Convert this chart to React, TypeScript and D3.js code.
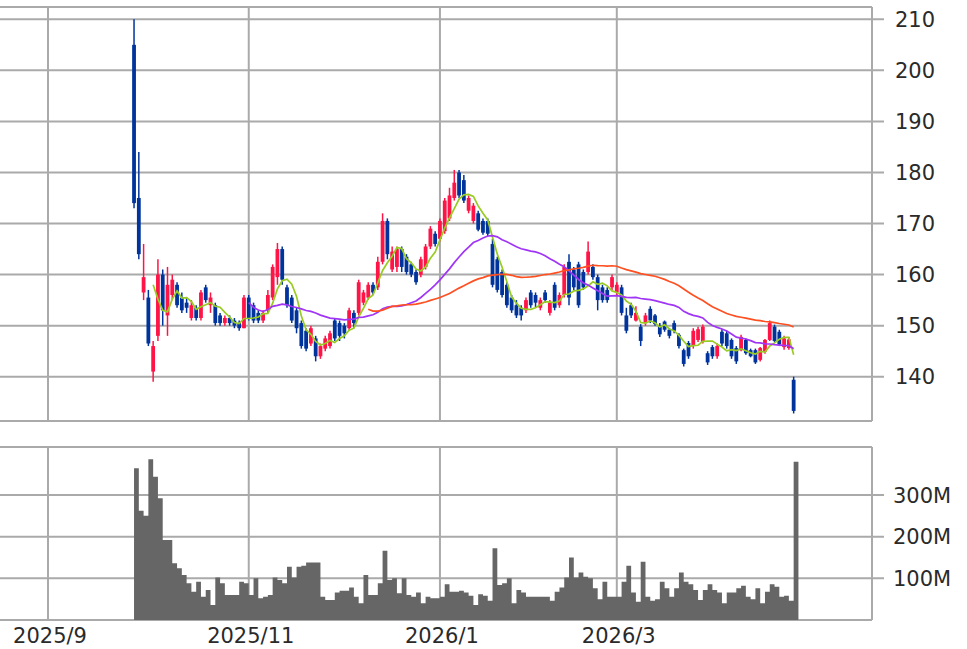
import React from "react";
import * as d3 from "d3";

// trading-day index of the first candle (0 = first trading day of 2025/9)
const START_INDEX = 18;

const opens = [
  205, 175, 156.5, 155.5, 141, 148, 160, 152, 156, 158, 155.5, 154.5, 151.5, 153.5, 151.5, 157.5, 154, 154, 152, 150.5,
  151.5, 151, 150.5, 149.5, 155.5, 154, 152.5, 151, 153, 155.5, 159.5, 165, 157.5, 155.5, 153, 150.5, 149, 146.5, 147.5, 144,
  145.5, 146, 151, 150.5, 150, 149.5, 152.5, 152.5, 154.5, 155.5, 158, 157.5, 162.5, 170.5, 161, 161.5, 165, 163.5, 162, 160.5,
  160, 161.5, 165.5, 168, 167, 168.5, 171, 175, 180, 178.5, 172.5, 170.5, 172, 170.5, 170.5, 166, 163, 160.5, 158, 155.5,
  154, 153.5, 153, 156.5, 156, 153.5, 156.5, 152.5, 158, 154, 156, 162.5, 161, 162, 160.5, 160.5, 161.5, 159.5, 157.5, 157,
  157.5, 156.5, 157.5, 152, 154, 151, 149.8, 150.5, 153.3, 152, 150, 150.8, 149.2, 150.5, 148.2, 145.2, 146.6, 146, 147.2, 146.8,
  144.6, 145.8, 144, 148.8, 148.5, 147.2, 145.6, 145.2, 147.2, 145.2, 145.2, 143.3, 144.9, 147.2, 149.8, 148.8, 145.8, 145.6, 139.4,
];
const highs = [
  210, 184, 166, 157, 147, 163, 161, 161.5, 160, 158.5, 156.5, 155.5, 155, 154, 157, 158, 156.5, 154.5, 152.5, 152,
  152, 151.5, 151, 156, 156, 154.5, 153, 153, 157, 162, 166.2, 165.5, 158, 156, 153.5, 151, 149.5, 150, 148, 146.5,
  148, 149, 151.5, 151, 150.5, 153.5, 153, 159, 157, 158.5, 158.5, 163.5, 172, 171, 165.5, 165.5, 165.5, 164, 162.5, 161,
  163.5, 166, 169.5, 168.5, 171, 175, 177, 180.5, 180.5, 179.5, 175.5, 174, 172.5, 171, 171, 167, 163.5, 161, 158.5, 156,
  155, 154, 155.5, 157, 156.5, 155.5, 157, 155, 158.5, 156.5, 162, 164, 161.5, 162.5, 161, 166.5, 162, 160, 158, 157.5,
  160, 158.5, 158, 153.5, 154.5, 153.8, 150.3, 152.5, 153.8, 152.3, 150.5, 151, 149.5, 151, 148.5, 145.5, 147, 149.5, 149.8, 150.2,
  145, 146.2, 146.5, 149.3, 149, 147.5, 146, 148.2, 147.5, 145.5, 145.5, 145.8, 147.4, 151, 150.2, 149.2, 148, 147.8, 140,
];
const lows = [
  173, 163, 155, 146, 139, 147, 150, 148, 155, 153.5, 152.5, 152.5, 151, 151, 151, 154.5, 152.5, 150, 150, 150,
  150, 149.5, 149, 149.5, 151, 150.5, 150.5, 150.5, 152.5, 155, 158, 158, 153.5, 150.5, 148.5, 145.5, 145, 146, 143, 143.5,
  145, 145.5, 147, 147, 147.5, 149, 149.5, 152, 154, 155, 156, 157, 162, 163, 160.5, 160.5, 160.5, 160, 159.5, 158,
  159.5, 161, 165, 165.5, 166.5, 168, 170.5, 174.5, 175, 174, 172, 170, 168.5, 167.8, 167.5, 157.5, 156.5, 155.5, 153.5, 152.5,
  151.5, 151, 152.5, 153.5, 153.5, 153, 154.5, 152, 153, 153.5, 155.5, 154, 157, 153.5, 157, 160, 159, 153, 154.5, 154.5,
  157, 156, 152, 148.5, 151.5, 150.8, 146, 150, 150.5, 150, 147.8, 148.8, 147.5, 148.5, 145.5, 142, 143.5, 145.5, 146.8, 146.5,
  142.3, 143.5, 143.5, 146, 145.5, 143.5, 142.5, 145, 144.3, 143.8, 142.5, 143, 144.5, 147, 146.8, 146, 145.3, 145.3, 132.8,
];
const closes = [
  174, 164, 159.5, 146.5, 146, 160, 153, 158, 159, 154, 153, 153.5, 154, 151.5, 156.5, 155, 155.5, 150.5, 150.5, 151.5,
  150.5, 150, 149.5, 155.5, 151.5, 151, 151, 152.5, 156, 161.5, 165, 159, 154, 151, 149.5, 146, 145.5, 149.5, 144, 146,
  147.5, 148.5, 147.5, 148, 148.5, 153, 150.5, 158.5, 156.5, 158, 156.5, 162.5, 170.5, 164, 164.5, 165, 161.5, 160.5, 160, 158.5,
  163, 165.5, 169, 166, 170.5, 174.5, 175.5, 178, 175.5, 174.5, 175, 173.5, 168.8, 168.2, 168, 158, 157, 156, 154, 153,
  152, 152, 155, 154, 154.5, 155, 155, 154.5, 153.5, 156, 161.5, 155.5, 157.5, 154, 157.5, 164.5, 159.5, 155, 155, 155,
  159.5, 158, 152.5, 149, 152, 152.5, 147, 152, 151, 150.3, 148.3, 149.2, 148, 149, 146, 142.5, 144, 149, 149.3, 149.8,
  142.8, 144, 146, 146.5, 146, 144, 143, 147.8, 144.6, 144, 142.8, 145.6, 147.2, 150.5, 147, 146.3, 147.5, 147.3, 133.3,
];
// volume in millions of shares
const volumes = [
  364, 262, 250, 386, 344, 292, 192, 192, 136, 124, 108, 88, 68, 92, 56, 72, 36, 102, 88, 60,
  60, 60, 92, 88, 60, 100, 52, 56, 60, 102, 96, 88, 128, 102, 128, 130, 138, 138, 138, 56,
  48, 48, 66, 70, 70, 78, 56, 40, 108, 60, 60, 88, 166, 96, 100, 64, 100, 60, 56, 66,
  40, 56, 52, 52, 56, 86, 68, 68, 70, 66, 58, 36, 62, 58, 46, 172, 84, 88, 100, 40,
  72, 66, 56, 56, 56, 56, 56, 46, 68, 78, 102, 150, 102, 114, 104, 100, 76, 50, 92, 56,
  56, 56, 92, 130, 66, 44, 140, 56, 46, 50, 92, 76, 56, 76, 114, 92, 86, 72, 48, 72,
  86, 72, 66, 40, 66, 66, 76, 82, 56, 50, 76, 40, 68, 86, 80, 56, 58, 46, 380,
];

const monthLabels = ["2025/9", "2025/11", "2026/1", "2026/3"];
const monthIndex = [0, 42, 82, 119];
const priceTicks = [140, 150, 160, 170, 180, 190, 200, 210];
const volumeTicks = [100, 200, 300];
const volumeTickLabels = ["100M", "200M", "300M"];
const maWindows = [5, 25, 50];
const maColors = ["#99cc22", "#a035f5", "#ff5022"];

const W = 967;
const H = 649;
const PLOT_RIGHT = 872;
const P_TOP = 7;
const P_BOTTOM = 421;
const V_TOP = 447;
const V_BOTTOM = 620;
const GRID = "#aaaaaa";
const UP = "#ff1447";
const DOWN = "#00349c";
const FONT = "'DejaVu Sans', sans-serif";

function movingAverage(values: number[], n: number) {
  const out: { i: number; v: number }[] = [];
  for (let k = n - 1; k < values.length; k++) {
    let s = 0;
    for (let j = k - n + 1; j <= k; j++) s += values[j];
    out.push({ i: k, v: s / n });
  }
  return out;
}

export default function App() {
  const x = d3.scaleLinear().domain([0, 119]).range([48, 616.8]);
  const step = x(1) - x(0);
  const y = d3.scaleLinear().domain([140, 210]).range([376.7, 19.3]);
  const yv = d3.scaleLinear().domain([0, 300]).range([V_BOTTOM, 495]);

  const candles = closes.map((c, k) => ({
    idx: START_INDEX + k,
    o: opens[k],
    h: highs[k],
    l: lows[k],
    c,
    v: volumes[k],
  }));

  const line = d3
    .line<{ i: number; v: number }>()
    .x((d) => x(START_INDEX + d.i))
    .y((d) => y(d.v));

  const bodyW = 3.8;

  // volume bars as one area so neighbouring bars join without seams
  const volArea = d3
    .area<{ idx: number; v: number }>()
    .curve(d3.curveStepAfter)
    .x((d) => x(d.idx))
    .y0(V_BOTTOM)
    .y1((d) => yv(d.v));
  const volData = candles.map((d) => ({ idx: d.idx, v: d.v }));
  volData.push({ idx: candles[candles.length - 1].idx + 1, v: candles[candles.length - 1].v });

  return (
    <svg
      width={W}
      height={H}
      style={{ position: "absolute", left: 0, top: 0, display: "block", background: "#fff" }}
    >
      <rect x={0} y={0} width={W} height={H} fill="#fff" />
      {/* price panel grid */}
      <g stroke={GRID} strokeWidth={2} fill="none">
        {priceTicks.map((t) => (
          <line key={"pg" + t} x1={0} x2={PLOT_RIGHT + 12} y1={y(t)} y2={y(t)} />
        ))}
        {monthIndex.map((m) => (
          <line key={"pv" + m} x1={x(m)} x2={x(m)} y1={P_TOP} y2={P_BOTTOM} />
        ))}
        <line x1={0} x2={PLOT_RIGHT} y1={P_TOP} y2={P_TOP} />
        <line x1={0} x2={PLOT_RIGHT} y1={P_BOTTOM} y2={P_BOTTOM} />
        <line x1={PLOT_RIGHT} x2={PLOT_RIGHT} y1={P_TOP} y2={P_BOTTOM} />
      </g>
      {/* volume panel grid */}
      <g stroke={GRID} strokeWidth={2} fill="none">
        {volumeTicks.map((t) => (
          <line key={"vg" + t} x1={0} x2={PLOT_RIGHT + 12} y1={yv(t)} y2={yv(t)} />
        ))}
        {monthIndex.map((m) => (
          <line key={"vv" + m} x1={x(m)} x2={x(m)} y1={V_TOP} y2={V_BOTTOM} />
        ))}
        <line x1={0} x2={PLOT_RIGHT} y1={V_TOP} y2={V_TOP} />
        <line x1={0} x2={PLOT_RIGHT} y1={V_BOTTOM} y2={V_BOTTOM} />
        <line x1={PLOT_RIGHT} x2={PLOT_RIGHT} y1={V_TOP} y2={V_BOTTOM} />
      </g>

      {/* volume bars */}
      <path d={volArea(volData) || ""} fill="#666666" />

      {/* candles */}
      <g>
        {candles.map((d) => {
          const col = d.c >= d.o ? UP : DOWN;
          const top = y(Math.max(d.o, d.c));
          const bot = y(Math.min(d.o, d.c));
          const cx = x(d.idx);
          return (
            <g key={"c" + d.idx}>
              <line x1={cx} x2={cx} y1={y(d.h)} y2={y(d.l)} stroke={col} strokeWidth={1.5} />
              <rect x={cx - bodyW / 2} y={top} width={bodyW} height={Math.max(1.2, bot - top)} fill={col} />
            </g>
          );
        })}
      </g>

      {/* moving averages */}
      <g fill="none" strokeWidth={1.7}>
        {maWindows.map((n, k) => (
          <path key={"ma" + n} d={line(movingAverage(closes, n)) || ""} stroke={maColors[k]} />
        ))}
      </g>

      {/* axis labels */}
      <g fontFamily={FONT} fontSize={21} fill="#2a2a2a">
        {priceTicks.map((t) => (
          <text key={"pt" + t} x={895} y={y(t) + 7.5}>
            {t}
          </text>
        ))}
        {volumeTicks.map((t, k) => (
          <text key={"vt" + t} x={893} y={yv(t) + 7.5}>
            {volumeTickLabels[k]}
          </text>
        ))}
        {monthIndex.map((m, k) => (
          <text key={"mt" + m} x={x(m) + 2} y={643} textAnchor="middle">
            {monthLabels[k]}
          </text>
        ))}
      </g>
    </svg>
  );
}
